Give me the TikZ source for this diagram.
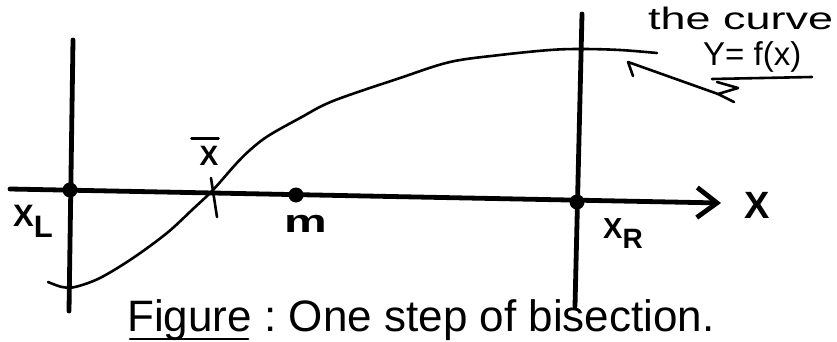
\documentclass[tikz,border=0pt]{standalone}
\usepackage{fontspec}
\setmainfont{Liberation Sans}
\usetikzlibrary{arrows.meta}
\begin{document}
\begin{tikzpicture}[x=1pt,y=-1pt,
  heavy/.style={line width=4.8pt,line cap=round},
  curveline/.style={line width=2.6pt,line cap=round},
  thinline/.style={line width=2.6pt,line cap=round,line join=round},
  dotnode/.style={circle,fill=black,inner sep=0pt,minimum size=15pt},
  lab/.style={inner sep=0pt,anchor=base west},
]
\useasboundingbox (0,0) rectangle (837,342);
% named points
\coordinate (a0) at (10,189);
\coordinate (a1) at (721,203);
\coordinate (l1) at (73,40);
\coordinate (l2) at (69,311);
\coordinate (r1) at (582,14);
\coordinate (r2) at (575,306);
\coordinate (t1) at (211,178);
\coordinate (t2) at (217,217);
\coordinate (p0) at (628,62);
\coordinate (p1) at (633,76);
\coordinate (z1) at (717,82);
\coordinate (z2) at (738,88);
\coordinate (z3) at (718,94);
\coordinate (z4) at (734,102);
\coordinate (u1) at (712,79);
\coordinate (u2) at (812,77);
% vertical lines
\draw[heavy] (l1) -- (l2);
\draw[heavy] (r1) -- (r2);
% axis
\draw[heavy,-{Straight Barb[length=20pt,width=30pt]}] (a0) -- (a1);
% dots
\node[dotnode] (xLdot) at (70,190) {};
\node[dotnode] (mdot) at (296,195) {};
\node[dotnode] (xRdot) at (577,202) {};
% tick at xbar
\draw[curveline] (t1) -- (t2);
% curve
\draw[curveline] plot[smooth,tension=0.55] coordinates {
 (48,282) (62,287) (75,287) (100,278) (133,258) (167,233) (193,209) (213,190)
 (235,165) (250,150) (268,136) (300,118) (333,101) (400,78) (450,62)
 (500,55) (550,50) (582,49) (620,50) (657,53)};
% labels
\node[lab] (xL) at (13,226) {\bfseries\fontsize{31}{31}\selectfont X\raisebox{-11pt}{L}};
\node[lab] (mlab) at (284,232) {\bfseries\fontsize{32}{32}\selectfont\scalebox{1.5}[1]{m}};
\node[lab] (xR) at (603,238) {\bfseries\fontsize{29}{29}\selectfont X\raisebox{-10pt}{\fontsize{28}{28}\selectfont R}};
\node[inner sep=0pt,font=\bfseries\fontsize{38}{38}\selectfont] (Xlab) at (757,205) {X};
\node[inner sep=0pt,anchor=base] (xbar) at (209,165) {\bfseries\fontsize{28}{28}\selectfont X};
\draw[thinline] ([xshift=-8pt,yshift=7pt]xbar.north west) -- ([xshift=0pt,yshift=7pt]xbar.north east);
% curve annotation
\node[lab] (curvetxt) at (648,30) {\fontsize{31}{31}\selectfont\scalebox{1.45}[1]{the curve}};
\node[lab] (ftxt) at (703,66) {\fontsize{33}{33}\selectfont Y= f(x)};
\draw[thinline] (u1) -- (u2);
\draw[thinline] (p1) -- (p0) -- (z3);
\draw[thinline] (z1) -- (z2) -- (z3) -- (z4);
% caption
\node[lab] (fig) at (127,331) {\fontsize{44}{44}\selectfont Figure};
\node[lab] (rest) at (fig.base east) {\fontsize{44}{44}\selectfont\ :\ One step of bisection.};
\draw[thinline] ([xshift=3pt,yshift=-8pt]fig.base west) -- ([xshift=-4pt,yshift=-8pt]fig.base east);
\end{tikzpicture}
\end{document}
